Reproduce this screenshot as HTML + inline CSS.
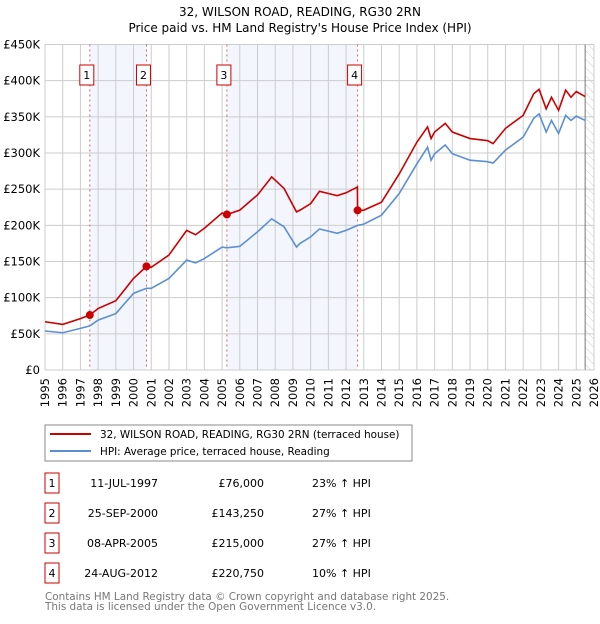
<!DOCTYPE html>
<html><head><meta charset="utf-8">
<style>
body{margin:0;background:#fff;font-family:"DejaVu Sans","Liberation Sans",sans-serif;}
svg text{font-family:"DejaVu Sans","Liberation Sans",sans-serif;}
</style></head>
<body>
<svg id="c" width="600" height="620" xmlns="http://www.w3.org/2000/svg">
<defs><pattern id="hatch" width="6" height="6" patternUnits="userSpaceOnUse" patternTransform="rotate(-45)"><line x1="0" y1="0" x2="0" y2="6" stroke="#ccc" stroke-width="1"/></pattern></defs>
<text x="300" y="16" text-anchor="middle" font-size="12">32, WILSON ROAD, READING, RG30 2RN</text>
<text x="300" y="32" text-anchor="middle" font-size="12">Price paid vs. HM Land Registry's House Price Index (HPI)</text>
<g id="plot"></g>
<rect x="45" y="425" width="367" height="36" fill="#fff" stroke="#888"/>
<line x1="50" y1="434" x2="91" y2="434" stroke="#cc0000" stroke-width="2"/>
<text x="100" y="438" font-size="10.4">32, WILSON ROAD, READING, RG30 2RN (terraced house)</text>
<line x1="50" y1="451" x2="91" y2="451" stroke="#5b8fd4" stroke-width="2"/>
<text x="100" y="455" font-size="10.4">HPI: Average price, terraced house, Reading</text>
<g id="table" font-size="11"></g>
<text x="45" y="600" font-size="10.4" fill="#777">Contains HM Land Registry data © Crown copyright and database right 2025.</text>
<text x="45" y="610" font-size="10.4" fill="#777">This data is licensed under the Open Government Licence v3.0.</text>
</svg>
<script>
const hpiYears=[1995,1996,1997,1997.53,1998,1999,2000,2000.73,2001,2002,2003,2003.5,2004,2005,2005.27,2006,2007,2007.8,2008.5,2009.2,2009.4,2010,2010.5,2011,2011.5,2012,2012.65,2013,2014,2015,2016,2016.6,2016.8,2017,2017.6,2018,2019,2020,2020.3,2021,2022,2022.6,2022.9,2023.3,2023.6,2024,2024.4,2024.7,2025,2025.5];
const hpiValues=[53.9,51.5,57.5,61,69,78,106,113,113,126.6,152,148,154,170,169,171,191,209,198,170,175,184,195,192,189,193,200,201.7,214,244,285,308,290,299,311,299,290,288,286,304,322,348,354,329,345,327,352,345,351,345];
const priceYears=[1995,1996,1997,1997.53,1998,1999,2000,2000.73,2001,2002,2003,2003.5,2004,2005,2005.27,2006,2007,2007.8,2008.5,2009.2,2009.4,2010,2010.5,2011,2011.5,2012,2012.64,2012.65,2013,2014,2015,2016,2016.6,2016.8,2017,2017.6,2018,2019,2020,2020.3,2021,2022,2022.6,2022.9,2023.3,2023.6,2024,2024.4,2024.7,2025,2025.5];
const priceValues=[66.7,63,71,76,85,95.7,126.6,143.25,142,159,193,187,196,217,215,221,242,267,251,218.6,221,230,247,244,241,245,253,220.75,221,232,271,315,336,320,329,341,329,320,317,313,334,352,382,388,361,377,359,387,377,385,378];
const saleYears=[1997.53,2000.73,2005.27,2012.65];
const salePrices=[76,143.25,215,220.75];
const saleLabels=["1","2","3","4"];
const saleDates=["11-JUL-1997","25-SEP-2000","08-APR-2005","24-AUG-2012"];
const salePriceText=["£76,000","£143,250","£215,000","£220,750"];
const saleHpiText=["23% ↑ HPI","27% ↑ HPI","27% ↑ HPI","10% ↑ HPI"];
const yTicks=[0,50,100,150,200,250,300,350,400,450];
const yTickLabels=["£0","£50K","£100K","£150K","£200K","£250K","£300K","£350K","£400K","£450K"];

const X0=45,X1=594,Y0=370,Y1=44.5;
const sx=y=>X0+(y-1995)/(2026-1995)*(X1-X0);
const sy=v=>Y0-v/450*(Y0-Y1);
const NS="http://www.w3.org/2000/svg";
const plot=document.getElementById('plot');
function mk(tag,attrs,parent){const e=document.createElementNS(NS,tag);for(const k in attrs)e.setAttribute(k,attrs[k]);(parent||plot).appendChild(e);return e;}

for(let i=0;i<saleYears.length;i+=2){
  const r=mk('rect',{x:sx(saleYears[i]),y:Y1,width:sx(saleYears[i+1])-sx(saleYears[i]),height:Y0-Y1,fill:'#f3f6fd'});
  
  
}
const h=mk('rect',{x:sx(2025.5),y:Y1,width:X1-sx(2025.5),height:Y0-Y1,fill:'url(#hatch)'});


for(let yr=1995;yr<=2026;yr++){
  const l=mk('line',{x1:sx(yr),x2:sx(yr),y1:Y1,y2:Y0,stroke:'#ccc','stroke-width':1});
  
  
  const t=mk('text',{transform:`translate(${sx(yr)+4},${Y0+8}) rotate(-90)`,'text-anchor':'end','font-size':'11.5'});
  t.textContent=yr;
  
  
}
yTicks.forEach((v,i)=>{
  const l=mk('line',{x1:X0,x2:X1,y1:sy(v),y2:sy(v),stroke:'#ccc','stroke-width':1});
  
  
  const t=mk('text',{x:40,y:sy(v)+4,'text-anchor':'end','font-size':'11.5'});
  t.textContent=yTickLabels[i];
  
  
});
const edge=mk('line',{x1:sx(2025.5),x2:sx(2025.5),y1:Y1,y2:Y0,stroke:'#777','stroke-width':1});


saleYears.forEach((y,i)=>{
  const l=mk('line',{x1:sx(y),x2:sx(y),y1:Y1,y2:Y0,stroke:'#e06060','stroke-width':1,'stroke-dasharray':'2,3'});
  
  
  const b=mk('rect',{x:sx(y)-10,y:65,width:14,height:20,fill:'#fff',stroke:'#cc0000'});
  
  
  const t=mk('text',{x:sx(y)-3,y:79,'text-anchor':'middle','font-size':'11'});
  t.textContent=saleLabels[i];
  
  
});
const hp=mk('polyline',{points:hpiYears.map((y,i)=>sx(y)+','+sy(hpiValues[i])).join(' '),fill:'none',stroke:'#5b8fd4','stroke-width':1.6});


const pp=mk('polyline',{points:priceYears.map((y,i)=>sx(y)+','+sy(priceValues[i])).join(' '),fill:'none',stroke:'#cc0000','stroke-width':1.6});


saleYears.forEach((y,i)=>{
  const c=mk('circle',{cx:sx(y),cy:sy(salePrices[i]),r:4,fill:'#cc0000'});
  
  
});
const ax=mk('line',{x1:X0,x2:X1,y1:Y0,y2:Y0,stroke:'#ccc'});



const tb=document.getElementById('table');
saleYears.forEach((y,i)=>{
  const cy=483+i*30;
  const b=mk('rect',{x:45,y:cy-10,width:14,height:20,fill:'#fff',stroke:'#cc0000'},tb);
  
  
  const n=mk('text',{x:52,y:cy+4,'text-anchor':'middle'},tb);n.textContent=saleLabels[i];
  
  
  const d=mk('text',{x:158,y:cy+4,'text-anchor':'end'},tb);d.textContent=saleDates[i];
  
  
  const p=mk('text',{x:264,y:cy+4,'text-anchor':'end'},tb);p.textContent=salePriceText[i];
  
  
  const q=mk('text',{x:312,y:cy+4},tb);q.textContent=saleHpiText[i];
  
  
});
</script>
</body></html>
